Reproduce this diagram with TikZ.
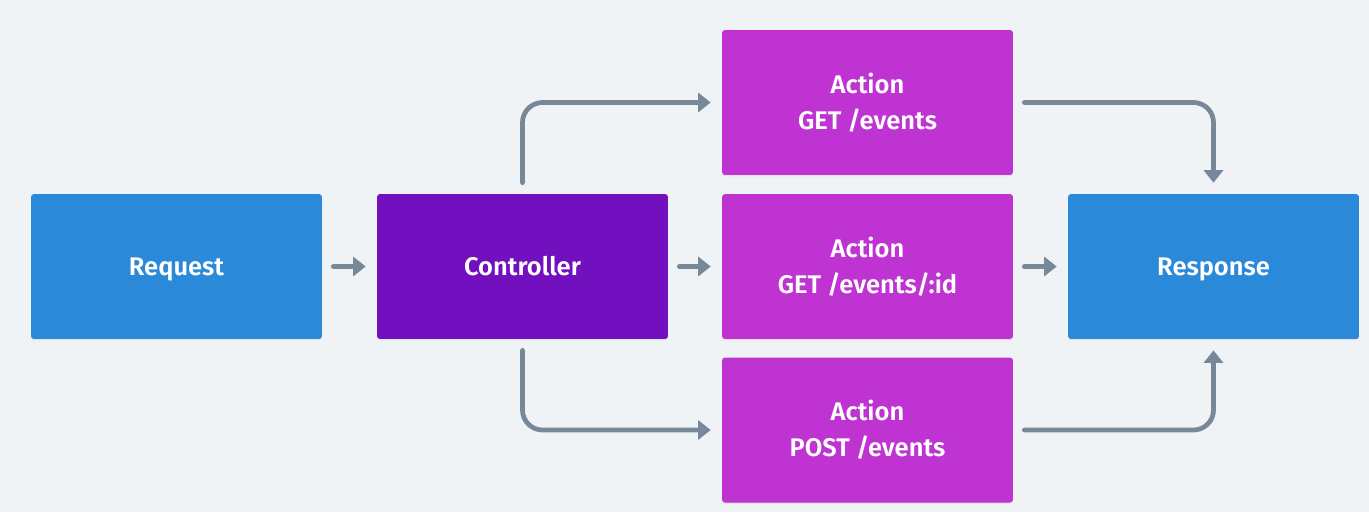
\documentclass[tikz,border=0pt]{standalone}
\usepackage{xcolor}
\usepackage{fontspec}
\usepackage{tikz}
\usetikzlibrary{arrows.meta,shadows}
\setsansfont{Fira Sans}[BoldFont={* SemiBold}]

\definecolor{bgcol}{HTML}{F0F3F6}
\definecolor{reqblue}{HTML}{2B89D9}
\definecolor{ctrlpurple}{HTML}{7210BF}
\definecolor{actmagenta}{HTML}{BE33D1}
\definecolor{flowgray}{HTML}{778899}

\tikzset{
    block/.style={rounded corners=0.06cm, minimum width=5.82cm, minimum height=2.9cm,
        text=white, align=center, font=\sffamily\bfseries\fontsize{14.5}{20.5}\selectfont,
        drop shadow={opacity=0.12, shadow xshift=0pt, shadow yshift=-0.8pt}},
    oneline/.style={text height=10pt, text depth=0pt},
    flow/.style={draw=flowgray, line width=0.095cm, line cap=round,
        -{Triangle[length=0.25cm, width=0.38cm]}, shorten <=0.22cm, shorten >=0.22cm},
}

\begin{document}
\begin{tikzpicture}[x=0.02cm, y=-0.02cm]
    \fill [bgcol] (0,0) rectangle (1369,512);

    \node [block, oneline, fill=reqblue] (req) at (176.5,266.5) {Request};
    \node [block, oneline, fill=ctrlpurple] (ctrl) at (522.5,266.5) {Controller};
    \node [block, fill=actmagenta] (act1) at (867.5,102.5) {Action\\GET /events};
    \node [block, fill=actmagenta] (act2) at (867.5,266.5) {Action\\GET /events/:id};
    \node [block, fill=actmagenta] (act3) at (867.5,430) {Action\\POST /events};
    \node [block, oneline, fill=reqblue] (resp) at (1213.5,266.5) {Response};

    \draw [flow] (req) -- (ctrl);
    \draw [flow] (ctrl) -- (act2);
    \draw [flow] (act2) -- (resp);

    % branches
    \draw [flow, rounded corners=0.4cm] (ctrl.north) |- (act1.west);
    \draw [flow, rounded corners=0.4cm] (ctrl.south) |- (act3.west);
    \draw [flow, rounded corners=0.4cm] (act1.east) -| (resp.north);
    \draw [flow, rounded corners=0.4cm] (act3.east) -| (resp.south);
\end{tikzpicture}
\end{document}
